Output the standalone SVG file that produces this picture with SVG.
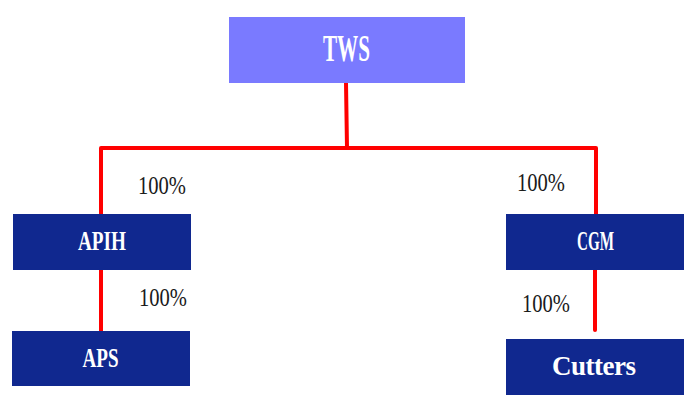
<svg xmlns="http://www.w3.org/2000/svg" width="698" height="408" viewBox="0 0 698 408">
<style>
.box{fill:#10288f}
.top{fill:#7a7aff}
.lbl{font-family:"Liberation Serif",serif;font-weight:bold;fill:#ffffff;text-anchor:middle}
.pct{font-family:"Liberation Serif",serif;font-size:26px;fill:#1a1a1a}
.ln{stroke:#ff0000;stroke-width:4;fill:none;stroke-linecap:round;stroke-linejoin:round}
</style>
<rect width="698" height="408" fill="#ffffff"/>
<g id="connectors">
<path class="ln" d="M346,83 L347,148"/>
<path class="ln" d="M101,214 L101,148 L596,148 L596,215"/>
<path class="ln" d="M101,269 L101,332"/>
<path class="ln" d="M595,269 L595,330"/>
</g>
<g id="TWS">
<rect class="top" x="229" y="17" width="236" height="66"/>
<text class="lbl" x="346.5" y="61" font-size="38" textLength="47" lengthAdjust="spacingAndGlyphs">TWS</text>
</g>
<g id="APIH">
<rect class="box" x="13" y="214" width="178" height="56"/>
<text class="lbl" x="102" y="250" font-size="27" textLength="48" lengthAdjust="spacingAndGlyphs">APIH</text>
</g>
<g id="APS">
<rect class="box" x="12" y="331" width="178" height="55"/>
<text class="lbl" x="100.5" y="367" font-size="28" textLength="36" lengthAdjust="spacingAndGlyphs">APS</text>
</g>
<g id="CGM">
<rect class="box" x="506" y="214" width="178" height="56"/>
<text class="lbl" x="595.5" y="250" font-size="27" textLength="37" lengthAdjust="spacingAndGlyphs">CGM</text>
</g>
<g id="Cutters">
<rect class="box" x="506" y="339" width="178" height="56"/>
<text class="lbl" x="594.5" y="375" font-size="27" textLength="85" lengthAdjust="spacing" letter-spacing="1">Cutters</text>
</g>
<g id="labels">
<text class="pct" x="138" y="194" textLength="48" lengthAdjust="spacingAndGlyphs">100%</text>
<text class="pct" x="139" y="306" textLength="48" lengthAdjust="spacingAndGlyphs">100%</text>
<text class="pct" x="517" y="191" textLength="48" lengthAdjust="spacingAndGlyphs">100%</text>
<text class="pct" x="522" y="312" textLength="48" lengthAdjust="spacingAndGlyphs">100%</text>
</g>
</svg>
